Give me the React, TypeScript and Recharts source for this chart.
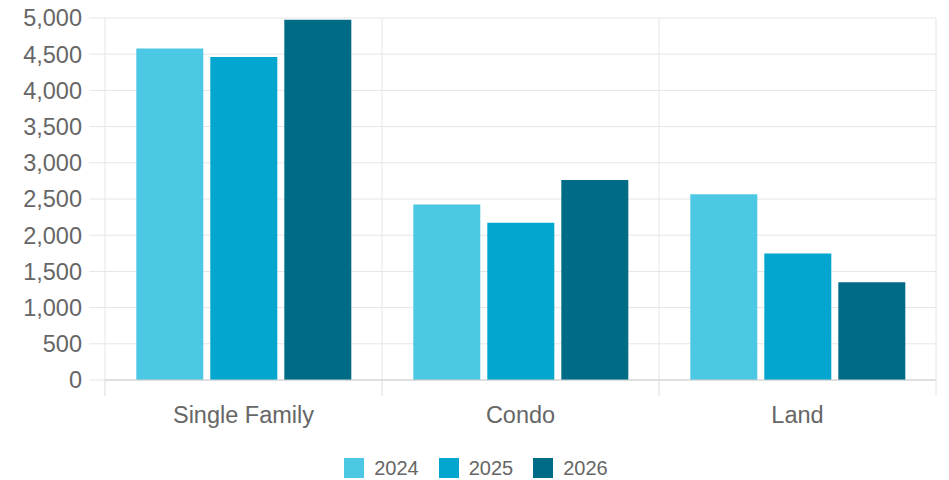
import { Bar, BarChart, CartesianGrid, Legend, XAxis, YAxis } from "recharts"

const categories = ["Single Family", "Condo", "Land"]
const sales2024 = [4580, 2425, 2566]
const sales2025 = [4460, 2173, 1747]
const sales2026 = [4975, 2764, 1349]
const yTicks = [0, 500, 1000, 1500, 2000, 2500, 3000, 3500, 4000, 4500, 5000]

const seriesList = [
  { key: "2024", color: "#4dc8e4" },
  { key: "2025", color: "#02a6ce" },
  { key: "2026", color: "#006b86" },
]

const data = categories.map((name, i) => ({
  name,
  "2024": sales2024[i],
  "2025": sales2025[i],
  "2026": sales2026[i],
}))

const font = '"Liberation Sans", Arial, sans-serif'

function CategoryTick(props) {
  const { x, y, payload, index, visibleTicksCount } = props
  const half = payload.offset || 0
  return (
    <g>
      <line x1={x - half} x2={x - half} y1={y - 16} y2={y} stroke="#dcdcdc" />
      {index === visibleTicksCount - 1 && (
        <line x1={x + half} x2={x + half} y1={y - 16} y2={y} stroke="#e6e6e6" />
      )}
      <text
        x={x}
        y={y + 27}
        textAnchor="middle"
        fill="#666666"
        fontSize={23.5}
        fontFamily={font}
      >
        {payload.value}
      </text>
    </g>
  )
}

function LegendBox() {
  return (
    <div
      style={{
        height: 30,
        boxSizing: "border-box",
        paddingTop: 8,
        display: "flex",
        justifyContent: "center",
        fontFamily: font,
      }}
    >
      {seriesList.map((s, i) => (
        <div
          key={s.key}
          style={{
            display: "flex",
            alignItems: "center",
            marginLeft: i === 0 ? 0 : 20,
            height: 20,
          }}
        >
          <span style={{ width: 20, height: 20, background: s.color, marginRight: 10 }} />
          <span style={{ fontSize: 20, color: "#666666", lineHeight: "20px" }}>{s.key}</span>
        </div>
      ))}
    </div>
  )
}

export default function App() {
  return (
    <div style={{ position: "absolute", left: 0, top: 0, background: "#fff" }}>
      <BarChart
        width={949}
        height={480}
        data={data}
        margin={{ top: 18, right: 13, bottom: 0, left: 0 }}
        barCategoryGap="11.3%"
        barGap={7}
      >
        <CartesianGrid
          stroke="#e6e6e6"
          verticalCoordinatesGenerator={({ offset }) =>
            [0, 1, 2, 3].map((i) => offset.left + (i * offset.width) / categories.length)
          }
        />
        <XAxis
          dataKey="name"
          height={70}
          tickSize={16}
          tickMargin={0}
          tickLine={false}
          axisLine={{ stroke: "#cccccc" }}
          tick={<CategoryTick />}
        />
        <YAxis
          width={105}
          domain={[0, 5000]}
          ticks={yTicks}
          tickSize={16}
          tickMargin={7}
          axisLine={false}
          tickLine={{ stroke: "#e6e6e6" }}
          tick={{ fill: "#666666", fontSize: 23.5, fontFamily: font }}
          tickFormatter={(v) => v.toLocaleString("en-US")}
        />
        <Legend verticalAlign="bottom" wrapperStyle={{ left: 8 }} content={<LegendBox />} />
        {seriesList.map((s) => (
          <Bar key={s.key} dataKey={s.key} fill={s.color} isAnimationActive={false} />
        ))}
      </BarChart>
    </div>
  )
}
